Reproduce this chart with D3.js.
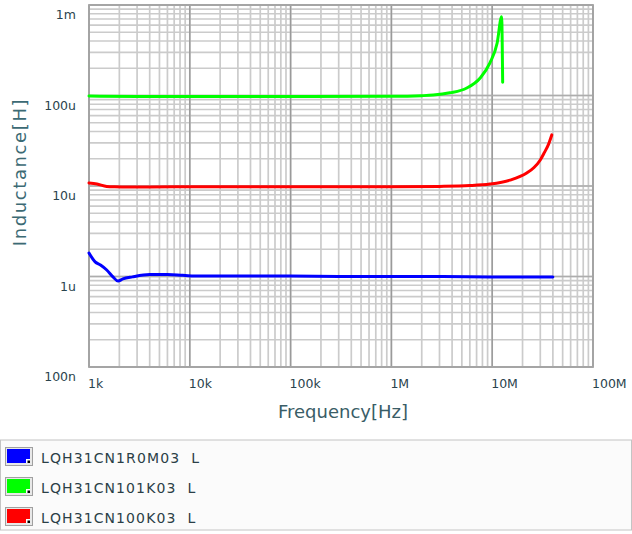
<!DOCTYPE html>
<html>
<head>
<meta charset="utf-8">
<script src="https://cdn.jsdelivr.net/npm/d3@7/dist/d3.min.js"></script>
<style>
  html, body { margin: 0; padding: 0; background: #ffffff; }
  svg { display: block; }
  text { font-family: "DejaVu Sans", sans-serif; }
</style>
</head>
<body>
<svg id="chart" width="632" height="534"></svg>
<script>
// ---- data ----
const xTickValues = [1e3, 1e4, 1e5, 1e6, 1e7, 1e8];
const xTickLabels = ["1k", "10k", "100k", "1M", "10M", "100M"];
const yTickValues = [1e-7, 1e-6, 1e-5, 1e-4, 1e-3];
const yTickLabels = ["100n", "1u", "10u", "100u", "1m"];

const seriesNames = ["LQH31CN1R0M03  L", "LQH31CN101K03  L", "LQH31CN100K03  L"];
const seriesColors = ["#0000ff", "#00ff00", "#ff0000"];

const freqBlue = [1.0e3, 1.15e3, 1.3e3, 1.5e3, 1.73e3, 1.94e3, 2.17e3, 2.7e3, 4e3, 6e3, 8.5e3, 1.26e4, 3e4, 1e5, 3e5, 1e6, 3e6, 1e7, 2e7, 4e7];
const indBlue  = [1.82e-6, 1.45e-6, 1.34e-6, 1.18e-6, 0.99e-6, 0.89e-6, 0.94e-6, 0.99e-6, 1.05e-6, 1.05e-6, 1.03e-6, 1.01e-6, 1.01e-6, 1.01e-6, 1.0e-6, 1.0e-6, 1.0e-6, 0.99e-6, 0.99e-6, 0.985e-6];

const freqGreen = [1e3, 3e3, 1e4, 1e5, 1e6, 2.0e6, 2.6e6, 3.8e6, 5.6e6, 7.6e6, 9.5e6, 11.2e6, 12.4e6, 12.7e6];
const indGreen  = [98.5e-6, 97.5e-6, 97.5e-6, 97.5e-6, 98e-6, 99.5e-6, 101e-6, 107e-6, 121e-6, 156e-6, 229e-6, 380e-6, 740e-6, 140e-6];

const freqRed = [1e3, 1.2e3, 1.5e3, 1.8e3, 2.5e3, 4e3, 1e4, 1e5, 1e6, 3e6, 6e6, 9.5e6, 1.5e7, 2.2e7, 2.6e7, 3e7, 3.3e7, 3.6e7, 3.9e7];
const indRed  = [10.8e-6, 10.5e-6, 9.9e-6, 9.8e-6, 9.75e-6, 9.75e-6, 9.8e-6, 9.8e-6, 9.8e-6, 9.9e-6, 10.1e-6, 10.5e-6, 11.6e-6, 13.9e-6, 16.0e-6, 19.4e-6, 23.5e-6, 28.5e-6, 36.7e-6];

// ---- layout ----
const svg = d3.select("#chart");
const x = d3.scaleLog().domain([1e3, 1e8]).range([89, 593]);
const y = d3.scaleLog().domain([1e-7, 1e-3]).range([367, 5]);

const plot = svg.append("g");
plot.append("rect").attr("x", 89).attr("y", 5).attr("width", 504).attr("height", 362).attr("fill", "#ffffff");

// minor grid
const xMinor = x.ticks();
const yMinor = y.ticks();
plot.selectAll(".gx").data(xMinor).enter().append("line")
  .attr("x1", d => x(d)).attr("x2", d => x(d)).attr("y1", 5).attr("y2", 367)
  .attr("stroke", "#cbcbcb").attr("stroke-width", 1.7);
plot.selectAll(".gy").data(yMinor).enter().append("line")
  .attr("y1", d => y(d)).attr("y2", d => y(d)).attr("x1", 89).attr("x2", 593)
  .attr("stroke", "#cbcbcb").attr("stroke-width", 1.7);
// major grid
plot.selectAll(".mx").data(xTickValues).enter().append("line")
  .attr("x1", d => x(d)).attr("x2", d => x(d)).attr("y1", 5).attr("y2", 367)
  .attr("stroke", "#9a9a9a").attr("stroke-width", 1.5);
plot.selectAll(".my").data(yTickValues).enter().append("line")
  .attr("y1", d => y(d)).attr("y2", d => y(d)).attr("x1", 89).attr("x2", 593)
  .attr("stroke", "#adadad").attr("stroke-width", 1.5);
plot.append("rect").attr("x", 89).attr("y", 5).attr("width", 504).attr("height", 362)
  .attr("fill", "none").attr("stroke", "#a4a4a4").attr("stroke-width", 1.8);

// tick labels
svg.selectAll(".xl").data(xTickValues).enter().append("text")
  .attr("x", d => x(d) - 1).attr("y", 388)
  .attr("font-size", 12.5).attr("fill", "#2a434d")
  .text((d, i) => xTickLabels[i]);
svg.selectAll(".yl").data(yTickValues).enter().append("text")
  .attr("x", 76).attr("y", d => y(d) + 14)
  .attr("text-anchor", "end")
  .attr("font-size", 12.5).attr("fill", "#2a434d")
  .text((d, i) => yTickLabels[i]);

// axis titles
svg.append("text").attr("x", 343).attr("y", 418).attr("text-anchor", "middle")
  .attr("font-size", 18).attr("fill", "#3a5d67").text("Frequency[Hz]");
svg.append("text").attr("transform", "translate(26,172) rotate(-90)").attr("text-anchor", "middle")
  .attr("font-size", 18).attr("letter-spacing", 1.6).attr("fill", "#3c6a74").text("Inductance[H]");

// curves
const line = d3.line().x(d => x(d[0])).y(d => y(d[1])).curve(d3.curveMonotoneX);
const series = [
  { f: freqBlue, v: indBlue, c: seriesColors[0] },
  { f: freqGreen, v: indGreen, c: seriesColors[1] },
  { f: freqRed, v: indRed, c: seriesColors[2] }
];
series.forEach(s => {
  const pts = s.f.map((f, i) => [f, s.v[i]]);
  plot.append("path").attr("d", line(pts)).attr("fill", "none")
    .attr("stroke", s.c).attr("stroke-width", 3).attr("stroke-linejoin", "round").attr("stroke-linecap", "round");
});

// legend
const leg = svg.append("g");
leg.append("rect").attr("x", 0.5).attr("y", 440).attr("width", 631).attr("height", 90)
  .attr("fill", "#fbfbfb").attr("stroke", "#c4c4c4").attr("stroke-width", 1);
seriesNames.forEach((name, i) => {
  const cy = 457 + i * 30;
  leg.append("rect").attr("x", 5.5).attr("y", cy - 9.5).attr("width", 27).attr("height", 18)
    .attr("fill", "#e8e8e8").attr("stroke", "#a0a0a0").attr("stroke-width", 1);
  leg.append("rect").attr("x", 7).attr("y", cy - 8).attr("width", 23).attr("height", 14)
    .attr("fill", seriesColors[i]);
  leg.append("rect").attr("x", 26).attr("y", cy + 2).attr("width", 4).attr("height", 4).attr("fill", "#ffffff");
  leg.append("rect").attr("x", 27.5).attr("y", cy + 3.5).attr("width", 2.5).attr("height", 2.5).attr("fill", "#000000");
  leg.append("text").attr("x", 41).attr("y", cy + 5.5)
    .attr("font-size", 14).attr("letter-spacing", 1.1).attr("fill", "#2b3f47").style("white-space", "pre")
    .text(name);
});
</script>
</body>
</html>
